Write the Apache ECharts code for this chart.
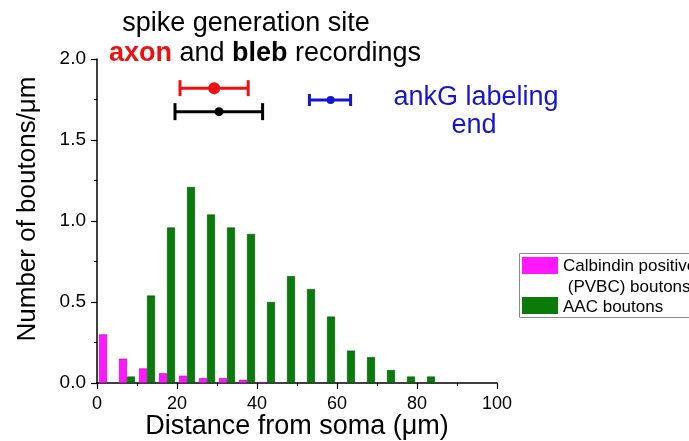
<!DOCTYPE html>
<html>
<head>
<meta charset="utf-8">
<script src="https://cdn.jsdelivr.net/npm/echarts@6/dist/echarts.min.js"></script>
<style>
html,body{margin:0;padding:0;background:#fff;}
#chart{width:689px;height:441px;}
</style>
</head>
<body>
<div id="chart"></div>
<script>
// ---- data ----
var binCenters = [2.5, 7.5, 12.5, 17.5, 22.5, 27.5, 32.5, 37.5, 42.5, 47.5, 52.5, 57.5, 62.5, 67.5, 72.5, 77.5, 82.5];
var pvbcValues = [0.30, 0.15, 0.09, 0.06, 0.045, 0.03, 0.03, 0.02, 0.006, null, null, null, null, null, null, null, null];
var aacValues  = [null, 0.04, 0.54, 0.96, 1.21, 1.04, 0.96, 0.92, 0.50, 0.66, 0.58, 0.41, 0.20, 0.16, 0.08, 0.04, 0.04];
var xTicks = [0, 20, 40, 60, 80, 100];
var yTicks = ['0.0', '0.5', '1.0', '1.5', '2.0'];

var errNames  = ['axon', 'bleb', 'ankG labeling end'];
var errCenter = [29.3, 30.5, 58.4];
var errLow    = [20.75, 19.5, 53.1];
var errHigh   = [37.8, 41.4, 63.4];
var errY      = [1.82, 1.675, 1.747];

var seriesNames = ['Calbindin positive (PVBC) boutons', 'AAC boutons'];

// ---- styles ----
var PINK = '#ff18ff', PINK_EDGE = '#b000b0';
var GREEN = '#0a7a0a', GREEN_EDGE = '#055205';
var RED = '#ee1111', BLACK = '#000000', BLUE = '#1414d2';
var errColors = [RED, BLACK, BLUE];
var errRadius = [6, 4.5, 4];
var errCap = [8, 8.5, 6];
var FONT = '"Liberation Sans", Arial, sans-serif';

function pairs(xs, ys) {
  var out = [];
  for (var i = 0; i < xs.length; i++) out.push([xs[i], ys[i]]);
  return out;
}

var errData = [];
for (var i = 0; i < errNames.length; i++) {
  errData.push({name: errNames[i], value: [errCenter[i], errLow[i], errHigh[i], errY[i]]});
}

var chart = echarts.init(document.getElementById('chart'), null, {renderer: 'canvas'});

chart.setOption({
  backgroundColor: '#ffffff',
  animation: false,
  grid: {left: 97, right: 192, top: 59, bottom: 58, containLabel: false, outerBoundsMode: 'none'},
  xAxis: {
    type: 'value', min: 0, max: 100, interval: 20,
    name: 'Distance from soma (\u03bcm)', nameLocation: 'middle', nameGap: 30, nameMoveOverlap: false,
    nameTextStyle: {fontSize: 27, color: '#000', fontFamily: FONT},
    axisLine: {show: true, lineStyle: {color: '#000', width: 1.5}},
    axisTick: {show: true, length: 6, lineStyle: {color: '#000', width: 1.2}},
    minorTick: {show: true, splitNumber: 2, length: 3, lineStyle: {color: '#000', width: 1}},
    axisLabel: {fontSize: 18, color: '#000', fontFamily: FONT, margin: 12,
      formatter: function (v) { return xTicks.indexOf(v) >= 0 ? String(v) : ''; }},
    splitLine: {show: false}
  },
  yAxis: {
    type: 'value', min: 0, max: 2, interval: 0.5,
    name: 'Number of boutons/\u03bcm', nameLocation: 'middle', nameGap: 56, nameMoveOverlap: false,
    nameTextStyle: {fontSize: 26, color: '#000', fontFamily: FONT, padding: [0, 0, 0, 24]},
    axisLine: {show: true, lineStyle: {color: '#000', width: 1.5}},
    axisTick: {show: true, length: 6, lineStyle: {color: '#000', width: 1.2}},
    minorTick: {show: true, splitNumber: 2, length: 3, lineStyle: {color: '#000', width: 1}},
    axisLabel: {fontSize: 19, color: '#000', fontFamily: FONT, margin: 11,
      formatter: function (v) { return yTicks[Math.round(v / 0.5)]; }},
    splitLine: {show: false}
  },
  series: [
    {
      name: seriesNames[0], type: 'bar', barWidth: 8, barGap: '0%',
      data: pairs(binCenters, pvbcValues),
      itemStyle: {color: PINK, borderColor: PINK_EDGE, borderWidth: 0.6}
    },
    {
      name: seriesNames[1], type: 'bar', barWidth: 8, barGap: '0%',
      data: pairs(binCenters, aacValues),
      itemStyle: {color: GREEN, borderColor: GREEN_EDGE, borderWidth: 0.6}
    },
    {
      name: 'site', type: 'custom', clip: false,
      data: errData,
      renderItem: function (params, api) {
        var k = params.dataIndex;
        var col = errColors[k];
        var c = api.coord([api.value(0), api.value(3)]);
        var lo = api.coord([api.value(1), api.value(3)]);
        var hi = api.coord([api.value(2), api.value(3)]);
        var h = errCap[k];
        var ls = {stroke: col, lineWidth: 3};
        return {type: 'group', children: [
          {type: 'line', shape: {x1: lo[0], y1: lo[1], x2: hi[0], y2: hi[1]}, style: ls},
          {type: 'line', shape: {x1: lo[0], y1: lo[1] - h, x2: lo[0], y2: lo[1] + h}, style: ls},
          {type: 'line', shape: {x1: hi[0], y1: hi[1] - h, x2: hi[0], y2: hi[1] + h}, style: ls},
          {type: 'circle', shape: {cx: c[0], cy: c[1], r: errRadius[k]}, style: {fill: col}}
        ]};
      }
    }
  ],
  graphic: [
    {type: 'text', x: 246, y: 24, style: {text: 'spike generation site', fontSize: 27, fontFamily: FONT, fill: '#000', textAlign: 'center', textVerticalAlign: 'middle'}},
    {type: 'text', x: 265, y: 54, style: {
      text: '{r|axon} and {b|bleb} recordings', fontSize: 27, fontFamily: FONT, fill: '#000',
      textAlign: 'center', textVerticalAlign: 'middle',
      rich: {
        r: {fontSize: 27, fontFamily: FONT, fontWeight: 'bold', fill: RED, color: RED},
        b: {fontSize: 27, fontFamily: FONT, fontWeight: 'bold', fill: '#000', color: '#000'}
      }}},
    {type: 'text', x: 476, y: 98, style: {text: 'ankG labeling', fontSize: 27, fontFamily: FONT, fill: BLUE, textAlign: 'center', textVerticalAlign: 'middle'}},
    {type: 'text', x: 474, y: 126, style: {text: 'end', fontSize: 27, fontFamily: FONT, fill: BLUE, textAlign: 'center', textVerticalAlign: 'middle'}},
    {type: 'group', children: [
      {type: 'rect', shape: {x: 519.5, y: 253.5, width: 200, height: 64}, style: {fill: '#fff', stroke: '#8a8a8a', lineWidth: 1}},
      {type: 'rect', shape: {x: 522, y: 257, width: 36, height: 17}, style: {fill: PINK}},
      {type: 'text', x: 563, y: 266, style: {text: 'Calbindin positive', fontSize: 17, fontFamily: FONT, fill: '#000', textVerticalAlign: 'middle'}},
      {type: 'text', x: 563, y: 287, style: {text: ' (PVBC) boutons', fontSize: 17, fontFamily: FONT, fill: '#000', textVerticalAlign: 'middle'}},
      {type: 'rect', shape: {x: 522, y: 297, width: 36, height: 17}, style: {fill: GREEN}},
      {type: 'text', x: 563, y: 307, style: {text: 'AAC boutons', fontSize: 17, fontFamily: FONT, fill: '#000', textVerticalAlign: 'middle'}}
    ]}
  ]
});
</script>
</body>
</html>
